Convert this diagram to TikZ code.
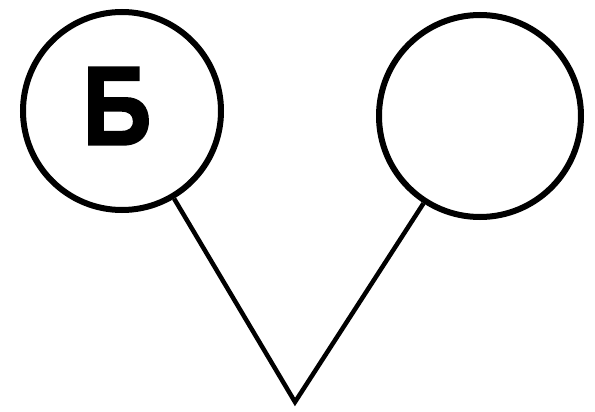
\documentclass[tikz,border=0pt]{standalone}
\usepackage{fontspec}
\newfontfamily\letterfont[FakeBold=2,FakeStretch=0.85]{Liberation Sans}
\begin{document}
\begin{tikzpicture}[x=1pt,y=-1pt,
  ring/.style={circle,draw,line width=6pt,inner sep=0pt},
  link/.style={line width=4.5pt,line join=miter}]
\useasboundingbox (0,0) rectangle (595,412);
\node[ring,minimum size=198pt] (L) at (122,111) {};
\node[ring,minimum size=202pt] (R) at (480,116) {};
\node[font=\letterfont\bfseries\fontsize{112}{112}\selectfont,inner sep=0pt] (t) at (117,106) {Б};
\coordinate (v) at (295,402);
\draw[link] (L) -- (v) -- (R);
\end{tikzpicture}
\end{document}
